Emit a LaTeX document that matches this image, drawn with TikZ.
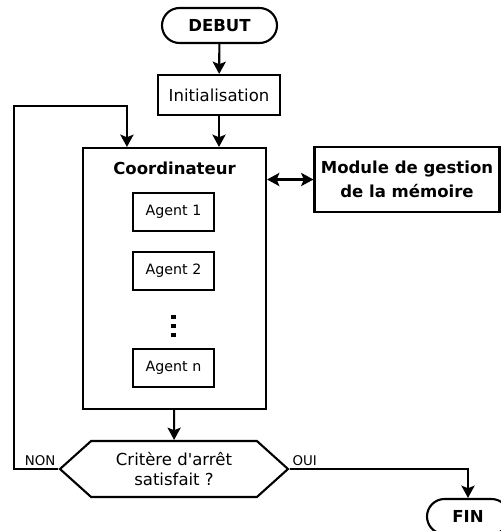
\documentclass[tikz,border=0pt]{standalone}
\usepackage{fontspec}
\setmainfont{DejaVu Sans}
\usetikzlibrary{arrows.meta,positioning,shapes.symbols}

\begin{document}
\begin{tikzpicture}[
    term/.style={rectangle, rounded corners=3.5mm, draw, line width=1.2pt,
                 minimum width=23mm, minimum height=7mm, inner sep=0pt,
                 font=\fontsize{9.4}{11}\selectfont\bfseries},
    proc/.style={rectangle, draw, line width=1.2pt, inner sep=0pt,
                 font=\fontsize{9.4}{11}\selectfont},
    agent/.style={rectangle, draw, line width=0.8pt, minimum width=16.2mm,
                  minimum height=7.6mm, inner sep=0pt,
                  font=\fontsize{8.1}{10}\selectfont},
    dec/.style={signal, signal to=west and east, signal pointer angle=84,
                draw, line width=1.2pt, minimum width=45.6mm, minimum height=11.2mm,
                inner sep=0pt, align=center, font=\fontsize{9.4}{11.4}\selectfont},
    lbl/.style={inner sep=1.5pt, font=\fontsize{7.6}{9}\selectfont},
    arr/.style={-{Stealth[length=7pt, width=7.5pt, inset=1.5pt]}, line width=1.2pt},
    arrboth/.style={{Stealth[length=7pt, width=7.5pt, inset=1.5pt]}-{Stealth[length=7pt, width=7.5pt, inset=1.5pt]}, line width=1.2pt}
  ]
  \useasboundingbox (0,0) rectangle (10.02,-10.62);
  % noeuds
  \node[term] (debut) at (4.39,-0.51) {DEBUT};
  \node[proc, minimum width=24.4mm, minimum height=8mm] (init) at (4.38,-1.90) {Initialisation};
  \node[proc, minimum width=36.6mm, minimum height=52.2mm] (coord) at (3.49,-5.57) {};
  \node[font=\fontsize{9.4}{11}\selectfont\bfseries] (coordtitle) at (3.49,-3.36) {Coordinateur};
  \node[agent] (agent1) at (3.47,-4.24) {Agent 1};
  \node[agent] (agent2) at (3.47,-5.42) {Agent 2};
  \coordinate (dots) at (3.47,-6.52);
  \node[agent] (agentn) at (3.47,-7.36) {Agent n};
  \node[proc, minimum width=37mm, minimum height=13mm, align=center,
        font=\fontsize{9.4}{13.5}\selectfont\bfseries] (module) at (8.14,-3.59)
        {Module de gestion\\de la mémoire};
  \node[dec] (crit) at (3.48,-9.38) {Critère d\textquotesingle arrêt\\satisfait ?};
  \node[term, minimum width=16.4mm] (fin) at (9.36,-10.33) {FIN};
  \coordinate (loop) at (0.28,-2.12);
  % points de suspension
  \foreach \dy in {-0.18,0,0.18}
    \fill ([yshift=\dy cm]dots) +(-0.045,-0.045) rectangle +(0.045,0.045);
  % liaisons
  \draw[arr] (debut) -- (init);
  \draw[arr] (init) -- (init |- coord.north);
  \draw[arrboth] (module.west -| coord.east) -- (module.west);
  \draw[arr] (coord) -- (crit);
  \draw[arr] (crit.west) -- (crit.west -| loop) -- (loop)
    -| ([xshift=9mm]coord.north west);
  \draw[arr] (crit.east) -| (fin.north);
  \node[lbl, anchor=south east] (non) at (crit.west) {NON};
  \node[lbl, anchor=south west] (oui) at (crit.east) {OUI};
\end{tikzpicture}
\end{document}
